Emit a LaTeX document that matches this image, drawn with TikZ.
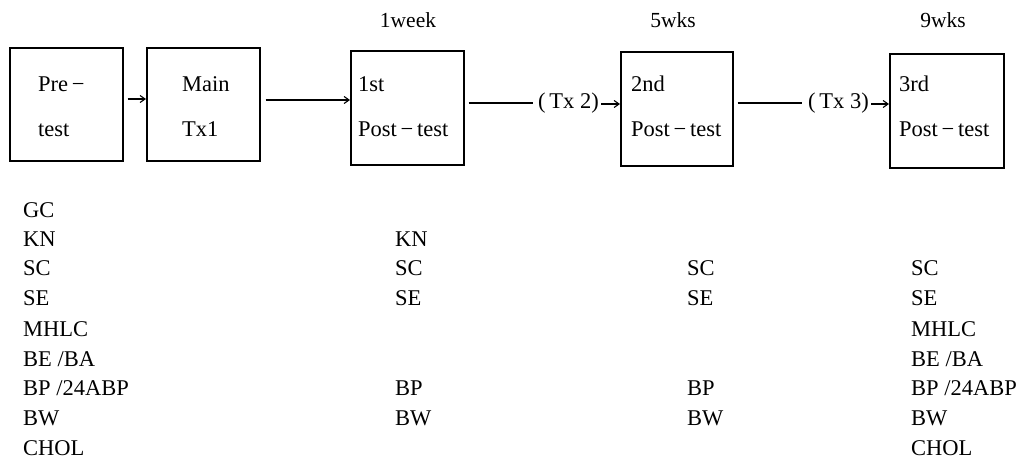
\documentclass[tikz,border=0pt]{standalone}
\usepackage{fontspec}
\setmainfont{Liberation Serif}
\usetikzlibrary{arrows.meta}
\begin{document}
\begin{tikzpicture}[x=1pt,y=-1pt,
  box/.style={draw, line width=1.5pt, inner sep=0pt, anchor=north west},
  lbl/.style={font=\fontsize{22.5}{27}\selectfont, inner sep=0pt, anchor=base west},
  toplbl/.style={font=\fontsize{21.5}{25}\selectfont, inner sep=0pt, anchor=base},
  conn/.style={line width=1.2pt, -{Straight Barb[length=5pt,width=7pt,line width=1.1pt]}},
  plain/.style={line width=1.2pt}]
\useasboundingbox (0,0) rectangle (1023,458);
% boxes
\node[box, minimum width=113pt, minimum height=113pt] (b1) at (9,47) {};
\node[box, minimum width=113pt, minimum height=113pt] (b2) at (146,47) {};
\node[box, minimum width=113pt, minimum height=114pt] (b3) at (350,50) {};
\node[box, minimum width=112pt, minimum height=114pt] (b4) at (620,51) {};
\node[box, minimum width=114pt, minimum height=114pt] (b5) at (889,53) {};
% box texts
\node[lbl] (p1a) at (38,91) {Pre\,−};
\node[lbl] (p1b) at (38,136) {test};
\node[lbl] (p2a) at (182,91) {Main};
\node[lbl] (p2b) at (182,136) {Tx1};
\node[lbl] (p3a) at (358,91) {1st};
\node[lbl] (p3b) at (358,136) {Post\,−\,test};
\node[lbl] (p4a) at (631,91) {2nd};
\node[lbl] (p4b) at (631,136) {Post\,−\,test};
\node[lbl] (p5a) at (899,91) {3rd};
\node[lbl] (p5b) at (899,136) {Post\,−\,test};
% time labels
\node[toplbl] (w1) at (408,27) {1week};
\node[toplbl] (w5) at (673,27) {5wks};
\node[toplbl] (w9) at (943,27) {9wks};
% treatment labels
\node[lbl] (tx2) at (538,108) {(\,Tx 2)};
\node[lbl] (tx3) at (808,108) {(\,Tx 3)};
% levels
\coordinate (y99) at (0,99);
\coordinate (y100) at (0,100);
\coordinate (y103) at (0,103);
\coordinate (y104) at (0,104);
% connectors
\draw[conn, shorten <=4pt] (b1.east |- y99) -- (b2.west |- y99);
\draw[conn, shorten <=5pt] (b2.east |- y100) -- (b3.west |- y100);
\draw[plain, shorten <=4pt, shorten >=5pt] (b3.east |- y103) -- (tx2.west |- y103);
\draw[conn, shorten <=2pt] (tx2.east |- y104) -- (b4.west |- y104);
\draw[plain, shorten <=4pt, shorten >=6pt] (b4.east |- y103) -- (tx3.west |- y103);
\draw[conn, shorten <=2pt] (tx3.east |- y104) -- (b5.west |- y104);
% column 1
\node[lbl] (a1) at (23,217) {GC};
\node[lbl] (a2) at (23,246) {KN};
\node[lbl] (a3) at (23,275) {SC};
\node[lbl] (a4) at (23,305) {SE};
\node[lbl] (a5) at (23,336) {MHLC};
\node[lbl] (a6) at (23,366) {BE /BA};
\node[lbl] (a7) at (23,395) {BP /24ABP};
\node[lbl] (a8) at (23,425) {BW};
\node[lbl] (a9) at (23,455) {CHOL};
% column 2
\node[lbl] (b2r2) at (395,246) {KN};
\node[lbl] (b2r3) at (395,275) {SC};
\node[lbl] (b2r4) at (395,305) {SE};
\node[lbl] (b2r7) at (395,395) {BP};
\node[lbl] (b2r8) at (395,425) {BW};
% column 3
\node[lbl] (c3) at (687,275) {SC};
\node[lbl] (c4) at (687,305) {SE};
\node[lbl] (c7) at (687,395) {BP};
\node[lbl] (c8) at (687,425) {BW};
% column 4
\node[lbl] (d3) at (911,275) {SC};
\node[lbl] (d4) at (911,305) {SE};
\node[lbl] (d5) at (911,336) {MHLC};
\node[lbl] (d6) at (911,366) {BE /BA};
\node[lbl] (d7) at (911,395) {BP /24ABP};
\node[lbl] (d8) at (911,425) {BW};
\node[lbl] (d9) at (911,455) {CHOL};
\end{tikzpicture}
\end{document}
